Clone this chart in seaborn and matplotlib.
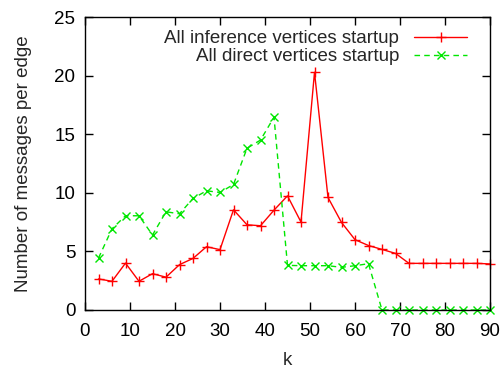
import matplotlib
matplotlib.use("Agg")
import matplotlib.pyplot as plt
import seaborn as sns
import pandas as pd

k_values = [3, 6, 9, 12, 15, 18, 21, 24, 27, 30, 33, 36, 39, 42, 45,
            48, 51, 54, 57, 60, 63, 66, 69, 72, 75, 78, 81, 84, 87, 90]
inference_msgs = [2.65, 2.45, 4.0, 2.45, 3.1, 2.8, 3.87, 4.4, 5.4, 5.15,
                  8.55, 7.27, 7.19, 8.52, 9.74, 7.5, 20.28, 9.6, 7.47, 6.0,
                  5.5, 5.17, 4.83, 3.98, 3.98, 3.98, 3.98, 3.98, 3.98, 3.93]
direct_msgs = [4.43, 6.93, 8.04, 8.04, 6.4, 8.38, 8.21, 9.52, 10.17, 10.03,
               10.71, 13.8, 14.5, 16.45, 3.81, 3.78, 3.78, 3.78, 3.64, 3.78,
               3.95, 0, 0, 0, 0, 0, 0, 0, 0, 0]
series_names = ["All inference vertices startup", "All direct vertices startup"]
x_ticks = [0, 10, 20, 30, 40, 50, 60, 70, 80, 90]
y_ticks = [0, 5, 10, 15, 20, 25]

sns.set_theme(style="ticks")
plt.rcParams["font.family"] = ["Liberation Sans", "DejaVu Sans"]

df = pd.DataFrame({
    "k": k_values * 2,
    "msgs": inference_msgs + direct_msgs,
    "series": [series_names[0]] * len(k_values) + [series_names[1]] * len(k_values),
})

fig = plt.figure(figsize=(5.04, 3.68), dpi=100)
ax = fig.add_axes([85 / 504, 1 - 310 / 368, 405 / 504, 293 / 368])

red = "#ff0000"
green = "#00e600"
sns.lineplot(data=df[df["series"] == series_names[0]], x="k", y="msgs",
             color=red, linewidth=1.0, marker="+", markersize=7,
             markeredgewidth=1.0, markeredgecolor=red, label=series_names[0],
             ax=ax, clip_on=False)
sns.lineplot(data=df[df["series"] == series_names[1]], x="k", y="msgs",
             color=green, linewidth=1.0, linestyle=(0, (4, 3)), marker="x",
             markersize=6, markeredgewidth=1.0, markeredgecolor=green,
             label=series_names[1], ax=ax, clip_on=False)

ax.set_xlim(0, 90)
ax.set_ylim(0, 25)
ax.set_xticks(x_ticks)
ax.set_yticks(y_ticks)
ax.tick_params(axis="both", direction="in", length=6, width=1, top=True,
               right=True, labelsize=13.5, colors="black")
ax.tick_params(axis="x", pad=9)
ax.tick_params(axis="y", pad=7)
for side in ax.spines.values():
    side.set_visible(True)
    side.set_linewidth(1.0)
    side.set_color("black")
ax.set_xlabel("k", fontsize=13.5, labelpad=9)
ax.set_ylabel("Number of messages per edge", fontsize=13.5, labelpad=16)

leg = ax.legend(loc="upper right", frameon=False, markerfirst=False,
                fontsize=13.5, handlelength=2.8, handletextpad=0.8,
                labelspacing=0.05, borderaxespad=0.3,
                bbox_to_anchor=(0.975, 1.0))
for t in leg.get_texts():
    t.set_ha("right")
leg._legend_box.align = "right"

fig.savefig("out.png", dpi=100)
